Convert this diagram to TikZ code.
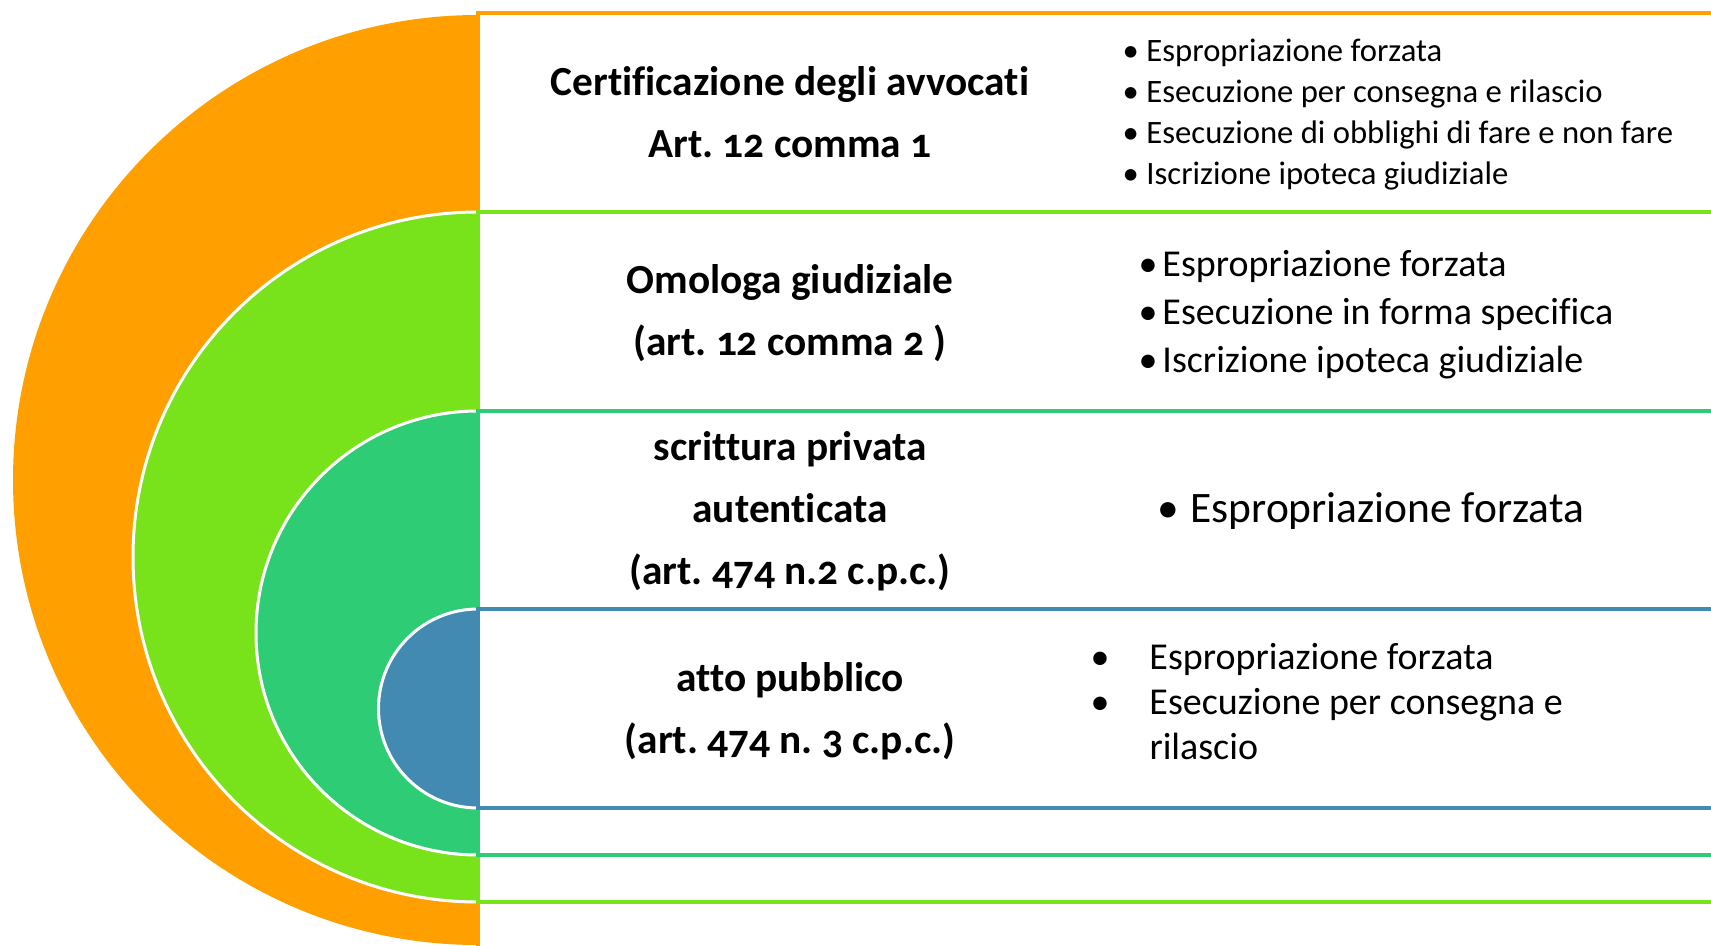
\documentclass[tikz,border=0pt]{standalone}
\usepackage{fontspec}
\setmainfont{Carlito}[Ligatures=NoCommon, Numbers=OldStyle]
\frenchspacing
\definecolor{orangeC}{RGB}{255,160,0}
\definecolor{limeC}{RGB}{120,227,26}
\definecolor{tealC}{RGB}{46,204,116}
\definecolor{blueC}{RGB}{67,138,178}
\newcommand{\blist}[2]{\begin{tabular}{@{}p{#1}@{}l@{}}#2\end{tabular}}
\tikzset{every picture/.style={line width=0.75pt}}
\tikzset{
  halfdisk/.style={draw=white, line width=2.25pt, fill=#1},
  band/.style={draw=#1, line width=2.6pt, fill=white},
  title/.style={align=center, inner sep=0.75pt, font=\bfseries\fontsize{31}{46.5}\selectfont},
  items/.style={anchor=west, inner sep=0pt},
}
\begin{document}
\begin{tikzpicture}[x=0.75pt,y=0.75pt,yscale=-1,xscale=1]
%set diagram to 1711 x 946
\useasboundingbox (0,0) rectangle (1711,946);
\clip (0,0) rectangle (1711,946);

% Shape: orange half disk and band
\draw [halfdisk=orangeC, draw=none] (478,15) arc (270:90:465) -- cycle;
\draw [band=orangeC] (478,13) rectangle (1730,960);
% Shape: lime half disk and band
\draw [halfdisk=limeC] (478,212) arc (270:90:345) -- cycle;
\draw [band=limeC] (478,212) rectangle (1730,902);
% Shape: teal half disk and band
\draw [halfdisk=tealC] (478,411) arc (270:90:222) -- cycle;
\draw [band=tealC] (478,411) rectangle (1730,855);
% Shape: blue half disk and band
\draw [halfdisk=blueC] (478,609) arc (270:90:99.5) -- cycle;
\draw [band=blueC] (478,609) rectangle (1730,808);

% Text Node
\draw (790,112) node (certTitle) [title] {Certificazione degli avvocati\\Art. 12 comma 1};
% Text Node
\draw (790,313) node (omolTitle) [title] {Omologa giudiziale\\(art. 12 comma 2 )};
% Text Node
\draw (790,511) node (scritTitle) [title] {scrittura privata\\autenticata\\(art. 474 n.2 c.p.c.)};
% Text Node
\draw (790,711) node (attoTitle) [title] {atto pubblico\\(art. 474 n. 3 c.p.c.)};

% Text Node
\draw (1122,114.5) node (certList) [items, font=\fontsize{24.5}{30.75}\selectfont] {\blist{18pt}{%
\textbullet & Espropriazione forzata\\
\textbullet & Esecuzione per consegna e rilascio\\
\textbullet & Esecuzione di obblighi di fare e non fare\\
\textbullet & Iscrizione ipoteca giudiziale}};
% Text Node
\draw (1138,314.5) node (omolList) [items, font=\fontsize{28.5}{36}\selectfont] {\blist{18pt}{%
\textbullet & Espropriazione forzata\\
\textbullet & Esecuzione in forma specifica\\
\textbullet & Iscrizione ipoteca giudiziale}};
% Text Node
\draw (1157,512) node (scritList) [items, font=\fontsize{32.6}{40}\selectfont] {\blist{24.75pt}{%
\textbullet & Espropriazione forzata}};
% Text Node
\draw (1090,705.5) node (attoList) [items, font=\fontsize{28.5}{33.75}\selectfont] {\blist{44.25pt}{%
\textbullet & Espropriazione forzata\\
\textbullet & Esecuzione per consegna e\\
 & rilascio}};

\end{tikzpicture}
\end{document}
